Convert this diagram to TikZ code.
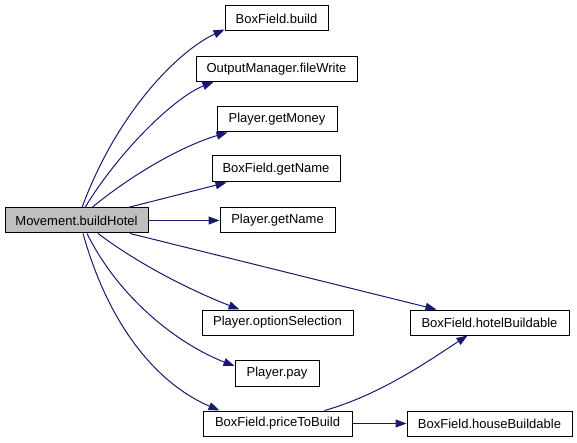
\documentclass[tikz,border=0pt]{standalone}
\usepackage{fontspec}
\setmainfont{Liberation Sans}
\usetikzlibrary{arrows.meta}
\definecolor{edgecol}{HTML}{191970}
\definecolor{graybox}{HTML}{BFBFBF}
\begin{document}
\begin{tikzpicture}[x=1pt,y=-1pt,
  box/.style={draw=black, line width=1pt, fill=white, minimum height=25pt, inner sep=0pt, font=\fontsize{13}{15}\selectfont},
  edge/.style={draw=edgecol, line width=1pt, -{Triangle[length=11pt,width=8pt]}}]
\useasboundingbox[fill=white] (0,0) rectangle (577,443);
\node[box, fill=graybox, minimum width=143pt] (bh) at (76.5,220.5) {Movement.buildHotel};
\node[box, minimum width=103pt] (build) at (276.5,18.5) {BoxField.build};
\node[box, minimum width=161pt] (fw) at (276.5,69) {OutputManager.fileWrite};
\node[box, minimum width=120pt] (gm) at (277,119.5) {Player.getMoney};
\node[box, minimum width=128pt, minimum height=26pt] (bfgn) at (276,169) {BoxField.getName};
\node[box, minimum width=115pt] (pgn) at (277.5,220.5) {Player.getName};
\node[box, minimum width=151pt] (os) at (277.5,322.5) {Player.optionSelection};
\node[box, minimum width=159pt] (hb) at (489.5,322.5) {BoxField.hotelBuildable};
\node[box, minimum width=84pt, minimum height=26pt] (pay) at (277,373) {Player.pay};
\node[box, minimum width=149pt] (ptb) at (277.5,423.5) {BoxField.priceToBuild};
\node[box, minimum width=165pt] (hsb) at (489.5,423.5) {BoxField.houseBuildable};

\draw[edge] ([xshift=5.5pt]bh.north) .. controls (118,110) and (180,50) .. ([yshift=2pt]build.south west);
\draw[edge] ([xshift=8.5pt]bh.north) .. controls (120,150) and (175,97) .. ([xshift=18pt]fw.south west);
\draw[edge] ([xshift=15.5pt]bh.north) .. controls (135,172) and (185,145) .. ([xshift=11pt]gm.south west);
\draw[edge] ([xshift=51.5pt]bh.north) -- ([xshift=15pt]bfgn.south west);
\draw[edge] (bh.east) -- (pgn.west);
\draw[edge] ([xshift=53.5pt]bh.south) -- ([xshift=27pt]hb.north west);
\draw[edge] ([xshift=21.5pt]bh.south) .. controls (140,265) and (190,290) .. ([xshift=38pt]os.north west);
\draw[edge] ([xshift=10.5pt]bh.south) .. controls (120,300) and (180,345) .. ([yshift=7pt]pay.west);
\draw[edge] ([xshift=6.5pt]bh.south) .. controls (110,330) and (160,385) .. ([xshift=17pt]ptb.north west);
\draw[edge] ([xshift=122pt]ptb.north west) .. controls (380,395) and (430,360) .. ([xshift=58pt]hb.south west);
\draw[edge] (ptb.east) -- (hsb.west);
\end{tikzpicture}
\end{document}
